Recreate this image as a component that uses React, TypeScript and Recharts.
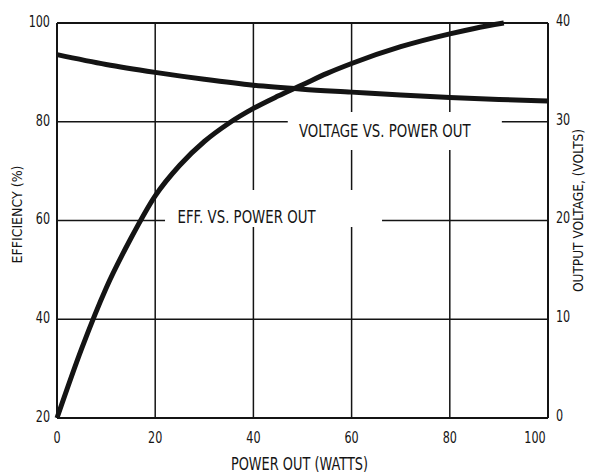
import React from 'react';
import {
  ComposedChart, Line, XAxis, YAxis, CartesianGrid, ReferenceArea, ReferenceLine,
} from 'recharts';

// power out (watts)
const power = [0, 5, 10, 15, 20, 25, 30, 35, 40, 45, 50, 55, 60, 70, 80, 85, 91];
// efficiency (%)
const efficiency = [20, 34, 46.3, 56.3, 65, 71.2, 76, 79.7, 82.7, 85.2, 87.5, 89.8, 91.8, 95.2, 97.8, 98.9, 100];

const voltPower = [0, 10, 20, 30, 40, 50, 60, 70, 80, 90, 100];
// output voltage (volts)
const voltage = [36.8, 35.8, 35.0, 34.3, 33.7, 33.3, 33.0, 32.7, 32.45, 32.25, 32.1];

const xTicks = [0, 20, 40, 60, 80, 100];
const effTicks = [20, 40, 60, 80, 100];
const voltTicks = [0, 10, 20, 30, 40];

const effData = power.map((p, i) => ({ p, eff: efficiency[i] }));
const voltData = voltPower.map((p, i) => ({ p, volt: voltage[i] }));

const FONT = '"DejaVu Sans", sans-serif';
const INK = '#141414';

// text squeezed horizontally to get the narrow lettering
const NarrowText = ({ x, y, size, sx = 0.76, anchor = 'middle', rotate = 0, children }: any) => (
  <g transform={`translate(${x} ${y}) rotate(${rotate}) scale(${sx} 1)`}>
    <text
      x={0}
      y={0}
      textAnchor={anchor}
      dominantBaseline="central"
      fontFamily={FONT}
      fontSize={size}
      fill={INK}
    >
      {children}
    </text>
  </g>
);

const makeTick = (anchor: string, dx: number, dy: number) => (props: any) => {
  const { x, y, payload } = props;
  // the last x label is pulled inside the frame
  const shift = anchor === 'middle' && payload.value === 100 ? -13 : 0;
  return (
    <NarrowText x={x + dx + shift} y={y + dy} size={16} sx={0.7} anchor={anchor}>
      {payload.value}
    </NarrowText>
  );
};

const curveLabel = (text: string, dx: number, dy: number) => (props: any) => {
  const { viewBox } = props;
  return (
    <NarrowText
      x={viewBox.x + viewBox.width / 2 + dx}
      y={viewBox.y + viewBox.height / 2 + dy}
      size={18}
      sx={0.74}
    >
      {text}
    </NarrowText>
  );
};

const axisTitle = (text: string, dx: number, dy: number, sx: number) => (props: any) => {
  const { viewBox } = props;
  return (
    <NarrowText
      x={viewBox.x + dx}
      y={viewBox.y + viewBox.height / 2 + dy}
      size={14}
      sx={sx}
      rotate={-90}
    >
      {text}
    </NarrowText>
  );
};

const xTitle = (props: any) => {
  const { viewBox } = props;
  return (
    <NarrowText x={viewBox.x + viewBox.width / 2 - 3} y={viewBox.y + 46} size={17} sx={0.76}>
      POWER OUT (WATTS)
    </NarrowText>
  );
};

export default function App() {
  return (
    <div style={{ position: 'absolute', left: 0, top: 0, background: '#fff' }}>
      <ComposedChart width={590} height={473} margin={{ top: 23, right: 0, bottom: 15, left: 17 }}>
        <CartesianGrid yAxisId="eff" stroke={INK} strokeWidth={1.5} horizontal vertical />
        <XAxis
          type="number"
          dataKey="p"
          domain={[0, 100]}
          ticks={xTicks}
          height={40}
          tickLine={false}
          axisLine={{ stroke: INK, strokeWidth: 2 }}
          tick={makeTick('middle', 0, 11)}
          label={{ content: xTitle }}
        />
        <YAxis
          yAxisId="eff"
          type="number"
          domain={[20, 100]}
          ticks={effTicks}
          width={40}
          tickLine={false}
          axisLine={{ stroke: INK, strokeWidth: 2 }}
          tick={makeTick('end', 1, -2)}
          label={{ content: axisTitle('EFFICIENCY (%)', 0, -6, 0.9) }}
        />
        <YAxis
          yAxisId="volt"
          orientation="right"
          type="number"
          domain={[0, 40]}
          ticks={voltTicks}
          width={42}
          tickLine={false}
          axisLine={{ stroke: INK, strokeWidth: 2 }}
          tick={makeTick('start', 0, -3)}
          label={{ content: axisTitle('OUTPUT VOLTAGE, (VOLTS)', 30, -10, 0.87) }}
        />
        <ReferenceLine yAxisId="eff" y={100} stroke={INK} strokeWidth={2} />
        <ReferenceArea
          yAxisId="eff"
          x1={47}
          x2={90.6}
          y1={74.3}
          y2={82}
          fill="#fff"
          fillOpacity={1}
          stroke="none"
          label={{ content: curveLabel('VOLTAGE VS. POWER OUT', -10, 0) }}
        />
        <ReferenceArea
          yAxisId="eff"
          x1={22}
          x2={66.2}
          y1={58.7}
          y2={66.2}
          fill="#fff"
          fillOpacity={1}
          stroke="none"
          label={{ content: curveLabel('EFF. VS. POWER OUT', -27, 8) }}
        />
        <Line
          yAxisId="eff"
          data={effData}
          dataKey="eff"
          type="monotone"
          stroke={INK}
          strokeWidth={5}
          dot={false}
          isAnimationActive={false}
        />
        <Line
          yAxisId="volt"
          data={voltData}
          dataKey="volt"
          type="monotone"
          stroke={INK}
          strokeWidth={5}
          dot={false}
          isAnimationActive={false}
        />
      </ComposedChart>
    </div>
  );
}
